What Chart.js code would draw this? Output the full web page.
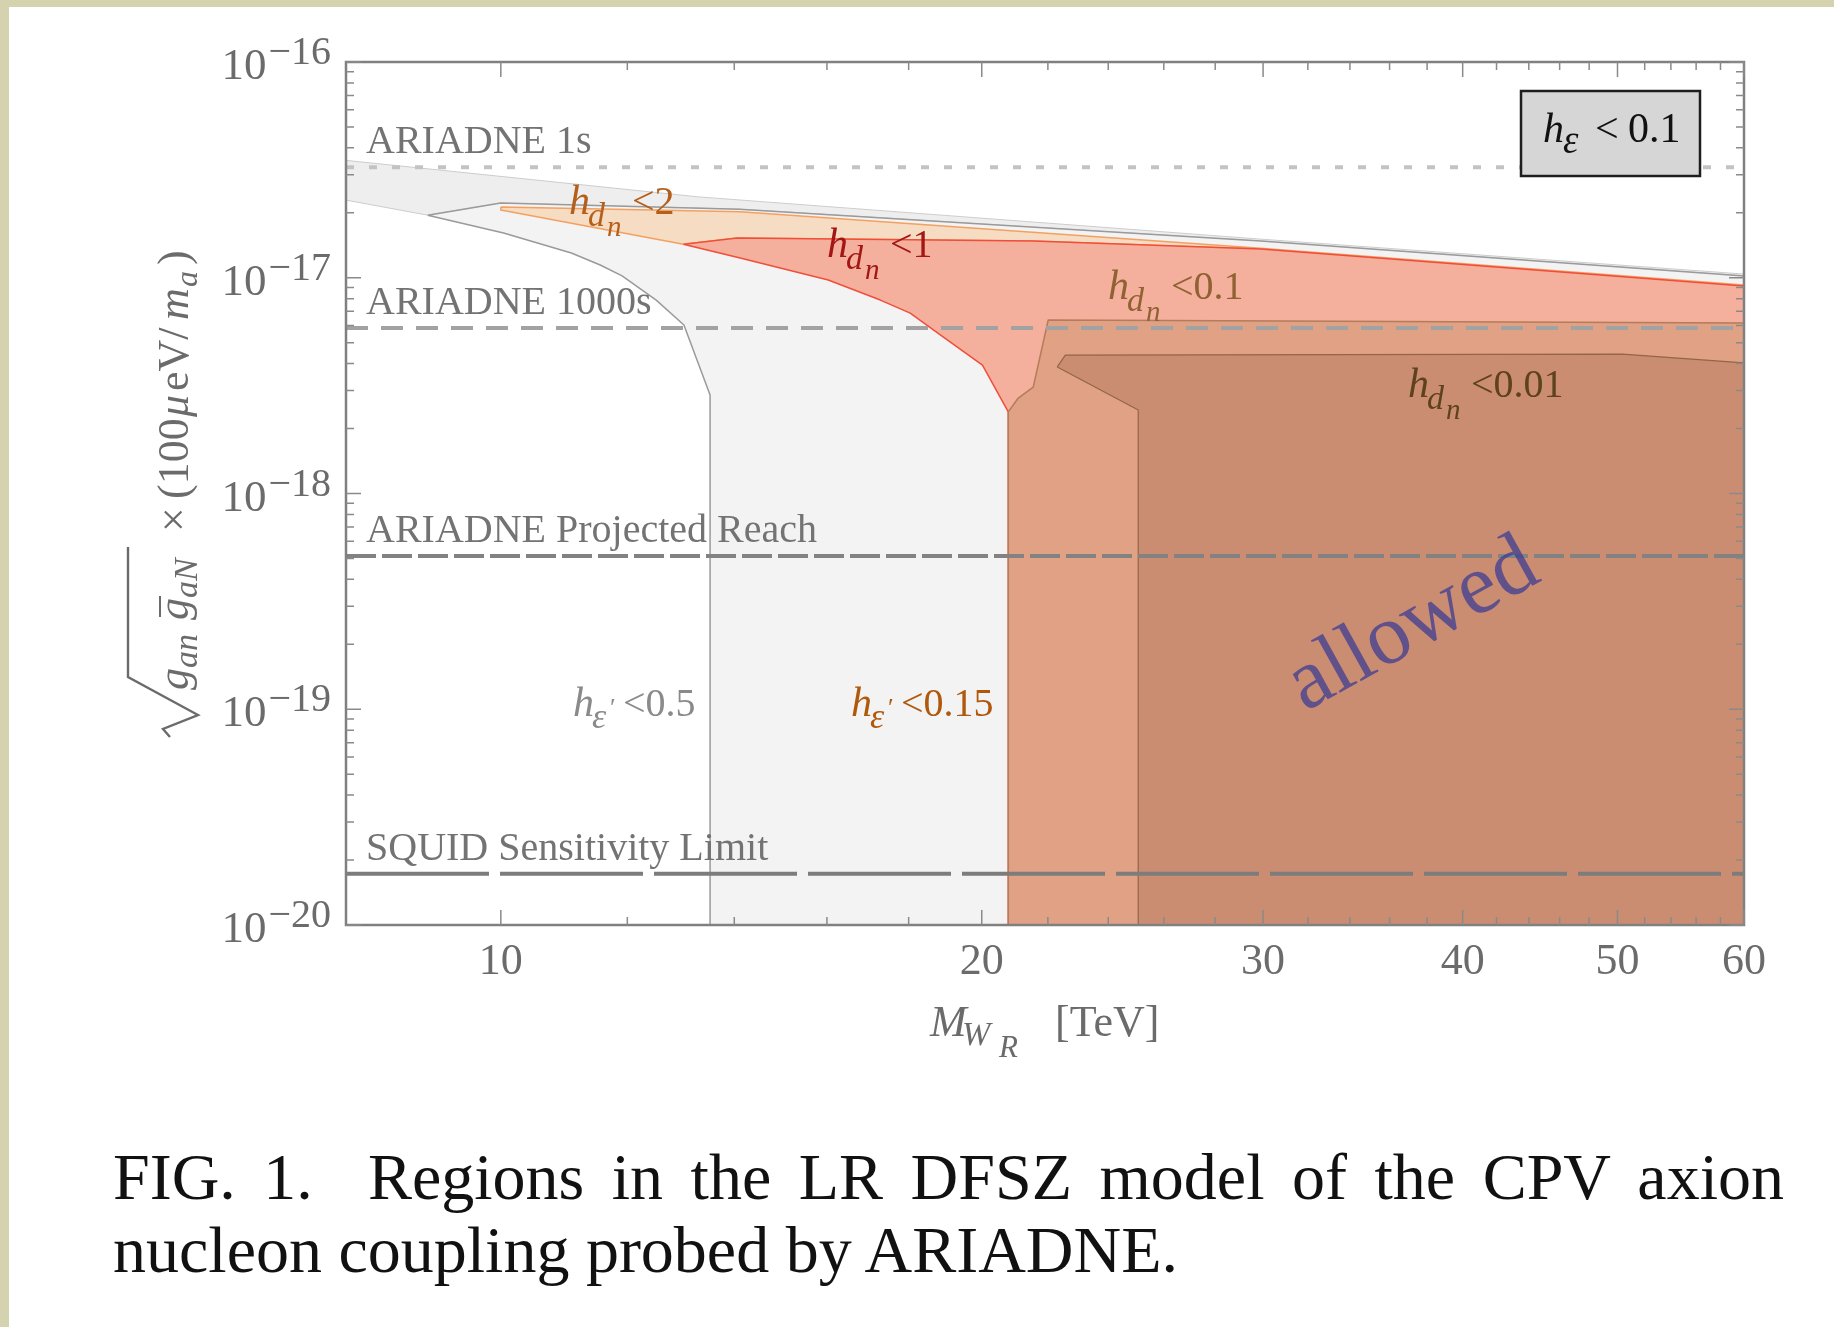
<!DOCTYPE html>
<html>
<head>
<meta charset="utf-8">
<script src="https://cdn.jsdelivr.net/npm/chart.js@4.4.1/dist/chart.umd.min.js"></script>
<style>
  html, body { margin: 0; padding: 0; }
  body { width: 1834px; height: 1327px; background: #d5d2b0; position: relative; overflow: hidden; }
  #sheet { position: absolute; left: 9px; top: 7px; right: 0; bottom: 0; background: #ffffff; }
  #chart { position: absolute; left: 0; top: 0; }
  .cap { position: absolute; left: 113px; width: 1671px; font-family: "Liberation Serif", serif;
         font-size: 66px; line-height: 66px; color: #111; white-space: nowrap; }
  #cap1 { top: 1144px; text-align: justify; text-align-last: justify; }
  #cap2 { top: 1217px; }
</style>
</head>
<body>
<div id="sheet"></div>
<canvas id="chart" width="1834" height="1327" style="width:1834px;height:1327px"></canvas>
<div class="cap" id="cap1">FIG. 1.&nbsp; Regions in the LR DFSZ model of the CPV axion</div>
<div class="cap" id="cap2">nucleon coupling probed by ARIADNE.</div>
<script>
// Axis ranges (M_WR in TeV, coupling combination)
const X_MIN = 8, X_MAX = 60;
const Y_MIN = 1e-20, Y_MAX = 1e-16;

// Tick positions
const xMajorTicks = [10, 20, 30, 40, 50, 60];
const xMinorTicks = [12, 14, 16, 18, 22, 24, 26, 28, 32, 34, 36, 38, 42, 44, 46, 48, 52, 54, 56, 58];
const yDecades = [-20, -19, -18, -17, -16];
const yMinorMantissas = [2, 3, 4, 5, 6, 7, 8, 9];

// Region allowed by h_eps < 0.1 alone (outer grey band)
const bandX = [8, 13.3, 29.9, 60, 60, 29.9, 14.1, 10.0, 9.0, 8];
const bandY = [3.5e-17, 2.37e-17, 1.51e-17, 1.04e-17, 1.02e-17, 1.48e-17, 2.08e-17, 2.22e-17, 1.95e-17, 2.29e-17];

// h_eps' < 0.5
const eps05X = [9.0, 10.0, 14.1, 29.9, 60, 60, 13.52, 13.52, 13.02, 12.51, 11.91, 11.54, 11.07, 10.04];
const eps05Y = [1.95e-17, 2.22e-17, 2.08e-17, 1.48e-17, 1.02e-17, 1e-20, 1e-20, 2.86e-18, 6.04e-18, 7.88e-18, 1.02e-17, 1.146e-17, 1.302e-17, 1.612e-17];

// h_dn < 2
const dn2X = [10.0, 14.12, 29.9, 60, 60, 29.9, 21.54, 14.06, 13.01, 10.0];
const dn2Y = [2.13e-17, 2.02e-17, 1.37e-17, 9.26e-18, 9.16e-18, 1.36e-17, 1.48e-17, 1.53e-17, 1.43e-17, 2.06e-17];

// h_dn < 1
const dn1X = [13.01, 14.06, 21.54, 29.9, 60, 60, 20.78, 20.78, 20.02, 18.84, 18.04, 17.28, 16.03, 14.12];
const dn1Y = [1.43e-17, 1.53e-17, 1.48e-17, 1.36e-17, 9.16e-18, 1e-20, 1e-20, 2.39e-18, 3.94e-18, 5.43e-18, 6.86e-18, 7.88e-18, 9.76e-18, 1.234e-17];

// h_dn < 0.1
const dn01X = [20.78, 21.08, 21.54, 22.01, 60, 60, 20.78];
const dn01Y = [2.39e-18, 2.77e-18, 3.11e-18, 6.37e-18, 6.17e-18, 1e-20, 1e-20];

// h_dn < 0.01
const dn001X = [22.30, 22.56, 50.36, 60, 60, 25.06, 25.06];
const dn001Y = [3.86e-18, 4.38e-18, 4.43e-18, 4.03e-18, 1e-20, 1e-20, 2.44e-18];

// Experimental sensitivity lines
const sensNames = ['ARIADNE 1s', 'ARIADNE 1000s', 'ARIADNE Projected Reach', 'SQUID Sensitivity Limit'];
const sensValues = [3.25e-17, 5.85e-18, 5.13e-19, 1.73e-20];

const SERIF = '"Liberation Serif", "Times New Roman", serif';

function polygon(xs, ys) {
  const pts = xs.map((x, i) => ({ x: x, y: ys[i] }));
  pts.push({ x: xs[0], y: ys[0] });
  return pts;
}

function region(label, xs, ys, fillColor, lineColor, width, order) {
  return {
    label: label, data: polygon(xs, ys), showLine: true, fill: 'shape',
    backgroundColor: fillColor, borderColor: lineColor, borderWidth: width,
    borderJoinStyle: 'round', pointRadius: 0, order: order
  };
}

const sensStyles = [
  { color: '#c3c3c3', dash: [8, 15] },
  { color: '#a2a2a2', dash: [22, 13] },
  { color: '#828282', dash: [30, 6] },
  { color: '#7c7c7c', dash: [143, 11] }
];

const datasets = [
  region('band', bandX, bandY, '#eeeeee', '#cdcdcd', 1, 20),
  region("h_eps' < 0.5", eps05X, eps05Y, '#f3f3f3', '#9a9a9a', 1.5, 19),
  region('h_dn < 2', dn2X, dn2Y, '#f5dcc3', '#f4a060', 1.5, 18),
  region('h_dn < 1', dn1X, dn1Y, '#f4b09c', '#f04e3a', 1.5, 17),
  region('h_dn < 0.1', dn01X, dn01Y, '#e0a185', '#b47c58', 1.5, 16),
  region('h_dn < 0.01', dn001X, dn001Y, '#cb8d71', '#936646', 1.2, 15)
];
sensValues.forEach((v, i) => {
  datasets.push({
    label: sensNames[i], data: [{ x: X_MIN, y: v }, { x: X_MAX, y: v }],
    showLine: true, fill: false, borderColor: sensStyles[i].color, borderWidth: 4,
    borderDash: sensStyles[i].dash, borderCapStyle: 'butt', pointRadius: 0, order: 5 - i
  });
});

// Draw a run of text pieces: [text, font, dx, dy]
function runs(ctx, x0, y0, pieces, color) {
  ctx.fillStyle = color;
  ctx.textAlign = 'left';
  ctx.textBaseline = 'alphabetic';
  for (const [t, font, dx, dy] of pieces) {
    ctx.font = font;
    ctx.fillText(t, x0 + dx, y0 + dy);
  }
}

const hdnLabel = (rest) => [
  ['h', 'italic 42px ' + SERIF, 0, 0],
  ['d', 'italic 34px ' + SERIF, 19, 12],
  ['n', 'italic 29px ' + SERIF, 38, 22],
  [rest, '40px ' + SERIF, 63, 0]
];
const hepsLabel = (rest) => [
  ['h', 'italic 42px ' + SERIF, 0, 0],
  ['\u03b5', 'italic 36px ' + SERIF, 19, 12],
  ['\u2032', '26px ' + SERIF, 37, 0],
  [rest, '40px ' + SERIF, 50, 0]
];

const decor = {
  id: 'decor',
  afterDatasetsDraw(chart) {
    const { ctx, chartArea: a, scales: { x, y } } = chart;
    ctx.save();

    // sensitivity line labels
    ctx.font = '40px ' + SERIF;
    ctx.fillStyle = '#737373';
    ctx.textAlign = 'left';
    ctx.textBaseline = 'alphabetic';
    sensNames.forEach((name, i) => {
      ctx.fillText(name, a.left + 20, y.getPixelForValue(sensValues[i]) - 14);
    });

    // region labels
    runs(ctx, 569, 214, hdnLabel('<2'), '#b4601c');
    runs(ctx, 827, 257, hdnLabel('<1'), '#a31616');
    runs(ctx, 1108, 299, hdnLabel('<0.1'), '#8f6233');
    runs(ctx, 1408, 397, hdnLabel('<0.01'), '#5e4220');
    runs(ctx, 573, 716, hepsLabel('<0.5'), '#8a8a8a');
    runs(ctx, 851, 716, hepsLabel('<0.15'), '#b0580c');

    // "allowed"
    ctx.save();
    ctx.translate(1424, 646);
    ctx.rotate(-29 * Math.PI / 180);
    ctx.font = '86px ' + SERIF;
    ctx.fillStyle = 'rgba(55, 58, 150, 0.72)';
    ctx.textAlign = 'center';
    ctx.fillText('allowed', 0, 0);
    ctx.restore();

    // h_eps < 0.1 box
    ctx.fillStyle = '#d6d6d6';
    ctx.fillRect(1521, 91, 179, 85);
    ctx.strokeStyle = '#1e1e1e';
    ctx.lineWidth = 2.5;
    ctx.strokeRect(1521, 91, 179, 85);
    runs(ctx, 1543, 142, [
      ['h', 'italic 42px ' + SERIF, 0, 0],
      ['\u03b5', 'italic 39px ' + SERIF, 20, 11],
      ['<', '42px ' + SERIF, 52, 0],
      ['0.1', '42px ' + SERIF, 85, 0]
    ], '#111');

    // frame and inward ticks
    ctx.strokeStyle = '#808080';
    ctx.lineWidth = 2.5;
    ctx.strokeRect(a.left, a.top, a.right - a.left, a.bottom - a.top);
    ctx.lineWidth = 1.5;
    ctx.strokeStyle = '#8a8a8a';
    const vtick = (v, len) => {
      const px = x.getPixelForValue(v);
      ctx.beginPath();
      ctx.moveTo(px, a.bottom); ctx.lineTo(px, a.bottom - len);
      ctx.moveTo(px, a.top); ctx.lineTo(px, a.top + len);
      ctx.stroke();
    };
    xMajorTicks.forEach(v => vtick(v, 15));
    xMinorTicks.forEach(v => vtick(v, 8));
    const htick = (v, len) => {
      const py = y.getPixelForValue(v);
      ctx.beginPath();
      ctx.moveTo(a.left, py); ctx.lineTo(a.left + len, py);
      ctx.moveTo(a.right, py); ctx.lineTo(a.right - len, py);
      ctx.stroke();
    };
    yDecades.forEach(e => {
      htick(Math.pow(10, e), 15);
      if (e < -16) yMinorMantissas.forEach(m => htick(m * Math.pow(10, e), 8));
    });

    // tick labels
    ctx.fillStyle = '#6b6b6b';
    ctx.font = '44px ' + SERIF;
    ctx.textAlign = 'center';
    xMajorTicks.forEach(v => ctx.fillText(String(v), x.getPixelForValue(v), a.bottom + 49));
    yDecades.forEach(e => {
      const py = y.getPixelForValue(Math.pow(10, e));
      const exp = '\u2212' + String(-e);
      ctx.font = '40px ' + SERIF;
      const we = ctx.measureText(exp).width;
      ctx.textAlign = 'left';
      ctx.fillText(exp, 331 - we, py + 2);
      ctx.font = '45px ' + SERIF;
      ctx.textAlign = 'right';
      ctx.fillText('10', 331 - we - 2, py + 17);
    });

    // x axis title
    runs(ctx, 930, 1036, [
      ['M', 'italic 44px ' + SERIF, 0, 0],
      ['W', 'italic 34px ' + SERIF, 32, 9],
      ['R', 'italic 31px ' + SERIF, 69, 21],
      ['[TeV]', '44px ' + SERIF, 125, 0]
    ], '#6b6b6b');

    // y axis title (rotated)
    ctx.save();
    ctx.translate(188, 739);
    ctx.rotate(-Math.PI / 2);
    ctx.fillStyle = '#6b6b6b';
    ctx.strokeStyle = '#6b6b6b';
    ctx.textAlign = 'left';
    const parts = [
      ['g', 'italic 44px ' + SERIF, 49, 0],
      ['an', 'italic 34px ' + SERIF, 71, 9],
      ['g', 'italic 44px ' + SERIF, 119, 0],
      ['aN', 'italic 34px ' + SERIF, 141, 9],
      ['\u00d7', '44px ' + SERIF, 207, 0],
      ['(100', '44px ' + SERIF, 240, 0],
      ['\u03bc', 'italic 44px ' + SERIF, 322, 0],
      ['eV/', '44px ' + SERIF, 348, 0],
      ['m', 'italic 44px ' + SERIF, 419, 0],
      ['a', 'italic 32px ' + SERIF, 452, 9],
      [')', '44px ' + SERIF, 474, 0]
    ];
    for (const [t, f, dx, dy] of parts) { ctx.font = f; ctx.fillText(t, dx, dy); }
    // radical sign with vinculum, and the bar over the second g
    ctx.lineWidth = 2.4;
    ctx.beginPath();
    ctx.moveTo(2, -18); ctx.lineTo(10, -25);
    ctx.lineTo(24, 10); ctx.lineTo(62, -60); ctx.lineTo(192, -60);
    ctx.stroke();
    ctx.lineWidth = 2;
    ctx.beginPath();
    ctx.moveTo(122, -28); ctx.lineTo(143, -28);
    ctx.stroke();
    ctx.restore();

    ctx.restore();
  }
};

new Chart(document.getElementById('chart'), {
  type: 'scatter',
  data: { datasets: datasets },
  options: {
    responsive: false,
    animation: false,
    devicePixelRatio: 1,
    layout: { padding: { left: 346, top: 62, right: 90, bottom: 402 } },
    scales: {
      x: { type: 'logarithmic', min: X_MIN, max: X_MAX, display: false },
      y: { type: 'logarithmic', min: Y_MIN, max: Y_MAX, display: false }
    },
    plugins: { legend: { display: false }, tooltip: { enabled: false } },
    elements: { point: { radius: 0 }, line: { tension: 0 } }
  },
  plugins: [decor]
});
</script>
</body>
</html>
